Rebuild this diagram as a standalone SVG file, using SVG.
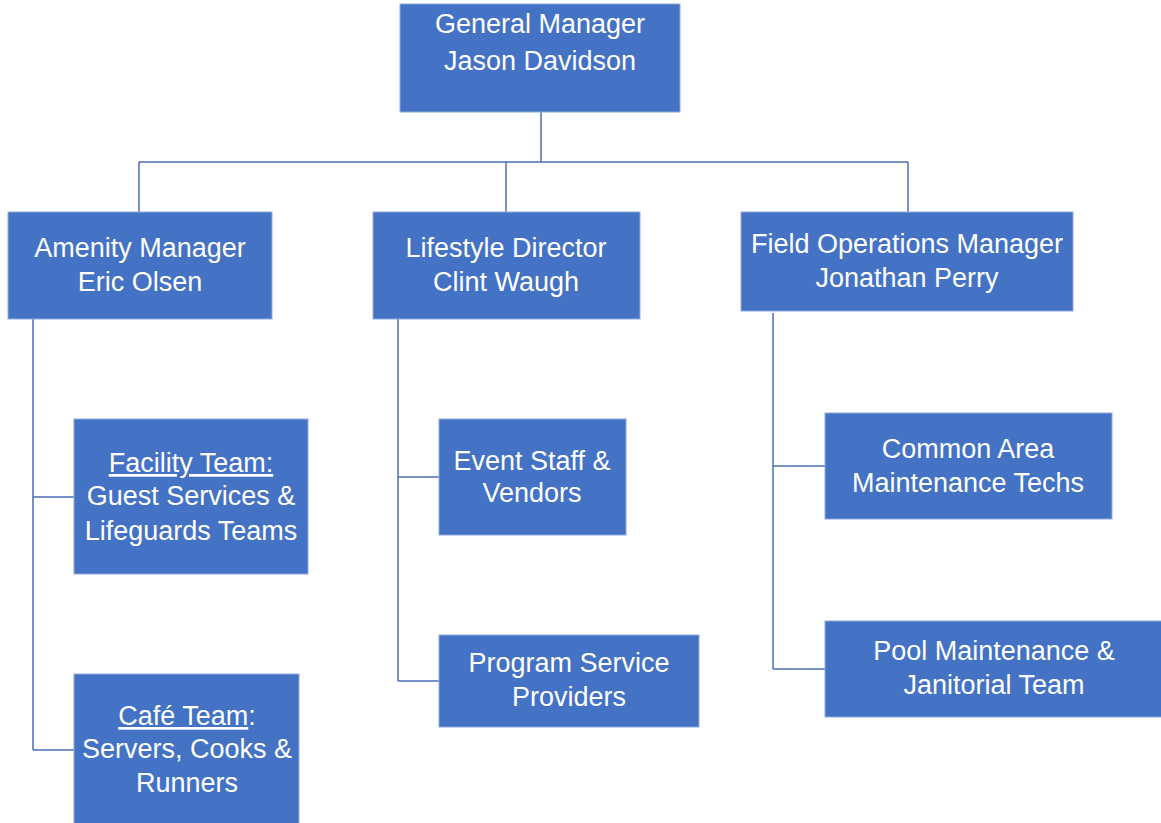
<svg xmlns="http://www.w3.org/2000/svg" width="1161" height="823" viewBox="0 0 1161 823">
<style>
.box{fill:#4472C4;stroke:#8FAADC;stroke-width:1}
.t{font-family:"Liberation Sans",Arial,sans-serif;font-size:27px;fill:#FFFFFF;text-anchor:middle}
.u{text-decoration:underline}
.c{fill:none;stroke:#4A6FB5;stroke-width:1.5}
</style>
<rect width="1161" height="823" fill="#FFFFFF"/>
<g id="connectors">
<path class="c" d="M541 112 V162 M139 162 H908 M139 162 V212 M506 162 V212 M908 162 V212"/>
<path class="c" d="M33 319 V750 M33 497 H74 M33 750 H74"/>
<path class="c" d="M398 319 V681 M398 477 H439 M398 681 H439"/>
<path class="c" d="M773 313 V669 M773 466 H825 M773 669 H825"/>
</g>
<g id="gm">
<rect class="box" x="400" y="4" width="280" height="108"/>
<text class="t" x="540" y="33">General Manager</text>
<text class="t" x="540" y="70">Jason Davidson</text>
</g>
<g id="amenity">
<rect class="box" x="8" y="212" width="264" height="107"/>
<text class="t" x="140" y="257">Amenity Manager</text>
<text class="t" x="140" y="291">Eric Olsen</text>
</g>
<g id="lifestyle">
<rect class="box" x="373" y="212" width="267" height="107"/>
<text class="t" x="506" y="257">Lifestyle Director</text>
<text class="t" x="506" y="291">Clint Waugh</text>
</g>
<g id="fieldops">
<rect class="box" x="741" y="212" width="332" height="99"/>
<text class="t" x="907" y="253">Field Operations Manager</text>
<text class="t" x="907" y="287">Jonathan Perry</text>
</g>
<g id="facility">
<rect class="box" x="74" y="419" width="234" height="155"/>
<text class="t" x="191" y="472"><tspan class="u">Facility Team:</tspan></text>
<text class="t" x="191" y="505">Guest Services &amp;</text>
<text class="t" x="191" y="540">Lifeguards Teams</text>
</g>
<g id="cafe">
<rect class="box" x="74" y="674" width="225" height="160"/>
<text class="t" x="187" y="725"><tspan class="u">Café Team</tspan>:</text>
<text class="t" x="187" y="758">Servers, Cooks &amp;</text>
<text class="t" x="187" y="792">Runners</text>
</g>
<g id="event">
<rect class="box" x="439" y="419" width="187" height="116"/>
<text class="t" x="532" y="470">Event Staff &amp;</text>
<text class="t" x="532" y="502">Vendors</text>
</g>
<g id="program">
<rect class="box" x="439" y="635" width="260" height="92"/>
<text class="t" x="569" y="672">Program Service</text>
<text class="t" x="569" y="706">Providers</text>
</g>
<g id="common">
<rect class="box" x="825" y="413" width="287" height="106"/>
<text class="t" x="968" y="458">Common Area</text>
<text class="t" x="968" y="492">Maintenance Techs</text>
</g>
<g id="pool">
<rect class="box" x="825" y="621" width="340" height="96"/>
<text class="t" x="994" y="660">Pool Maintenance &amp;</text>
<text class="t" x="994" y="694">Janitorial Team</text>
</g>
</svg>
